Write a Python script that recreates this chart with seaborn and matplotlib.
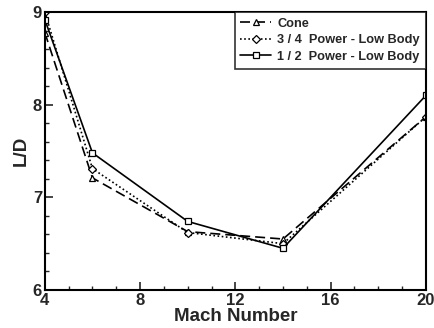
import matplotlib
matplotlib.use("Agg")
import matplotlib.pyplot as plt
from matplotlib.ticker import MultipleLocator
import seaborn as sns
import pandas as pd

mach = [4, 6, 10, 14, 20]
cone = [8.78, 7.21, 6.63, 6.55, 7.87]
power_34 = [9.0, 7.31, 6.62, 6.50, 7.87]
power_12 = [8.92, 7.48, 6.74, 6.45, 8.10]

labels = ["Cone", "3 / 4  Power - Low Body", "1 / 2  Power - Low Body"]

sns.set_style("white")
plt.rcParams['font.family'] = ['Liberation Sans', 'DejaVu Sans']

fig = plt.figure(figsize=(4.35, 3.28), dpi=100)
ax = fig.add_axes([0.103, 0.116, 0.876, 0.847])

styles = [((0, (6, 3)), '^'), ((0, (1, 1.5)), 'D'), ('-', 's')]
for vals, lab, (ls, mk) in zip([cone, power_34, power_12], labels, styles):
    df = pd.DataFrame({"Mach": mach, "LD": vals})
    ms = 4 if mk == 'D' else 5
    sns.lineplot(data=df, x="Mach", y="LD", ax=ax, color="black", linestyle=ls,
                 linewidth=1.2, marker=mk, markersize=ms, markerfacecolor="white",
                 markeredgecolor="black", markeredgewidth=0.9, label=lab)

ax.set_xlim(4, 20)
ax.set_ylim(6, 9)
ax.xaxis.set_major_locator(MultipleLocator(4))
ax.xaxis.set_minor_locator(MultipleLocator(1))
ax.yaxis.set_major_locator(MultipleLocator(1))
ax.yaxis.set_minor_locator(MultipleLocator(0.2))
ax.tick_params(which='major', direction='in', length=6, width=1.2, labelsize=12,
               top=False, right=False, pad=2)
ax.tick_params(which='minor', direction='in', length=3, width=1.0, top=False, right=False)
ax.tick_params(axis='x', which='both', bottom=True)
ax.tick_params(axis='y', which='both', left=True)
for t in ax.get_xticklabels() + ax.get_yticklabels():
    t.set_fontweight('bold')
for s in ax.spines.values():
    s.set_linewidth(1.5)
    s.set_color("black")

ax.set_xlabel("Mach Number", fontsize=13.5, fontweight='bold', labelpad=0)
ax.set_ylabel("L/D", fontsize=13.5, fontweight='bold', labelpad=2)

leg = ax.legend(loc='upper right', fontsize=9.2, frameon=True, fancybox=False,
                edgecolor='black', borderaxespad=0, handlelength=2.4,
                borderpad=0.45, labelspacing=0.35, handletextpad=0.5)
leg.get_frame().set_linewidth(1.2)
for t in leg.get_texts():
    t.set_fontweight('bold')

fig.savefig("out.png", dpi=100)
